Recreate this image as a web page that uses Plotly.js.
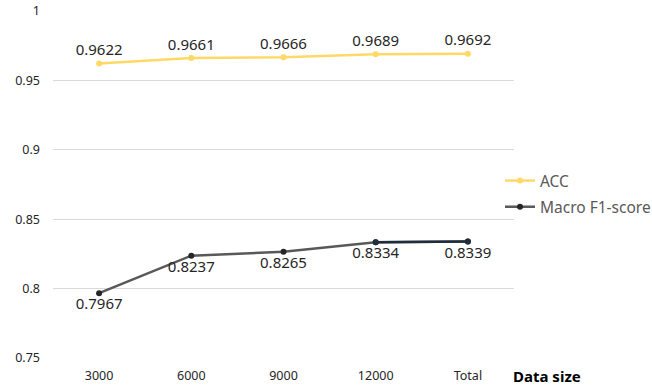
<!DOCTYPE html>
<html>
<head>
<meta charset="utf-8">
<script src="https://cdn.plot.ly/plotly-3.0.1.min.js"></script>
<style>
  html, body { margin: 0; padding: 0; background: #ffffff; }
  #chart { width: 652px; height: 385px; }
</style>
</head>
<body>
<div id="chart"></div>
<script>
// Data size buckets on the x axis
const dataSizes = ['3000', '6000', '9000', '12000', 'Total'];
// Accuracy per data size
const accValues = [0.9622, 0.9661, 0.9666, 0.9689, 0.9692];
// Macro F1-score per data size
const f1Values = [0.7967, 0.8237, 0.8265, 0.8334, 0.8339];
// Y axis ticks
const yTicks = [0.75, 0.8, 0.85, 0.9, 0.95, 1];
const yTickLabels = ['0.75', '0.8', '0.85', '0.9', '0.95', '1'];

const fmt = v => v.toFixed(4);
const labelFont = { family: 'Noto Sans, Open Sans, sans-serif', size: 15, color: '#262626' };

const accTrace = {
  x: dataSizes, y: accValues, name: 'ACC', legendgroup: 'acc',
  type: 'scatter', mode: 'lines+markers+text',
  line: { color: '#FFD966', width: 2.5 },
  marker: { color: '#FFD966', size: 6 },
  text: accValues.map(fmt), textposition: 'top center',
  textfont: labelFont, cliponaxis: false
};

const f1Trace = {
  x: dataSizes, y: f1Values, name: 'Macro F1-score', legendgroup: 'f1',
  type: 'scatter', mode: 'lines+markers+text',
  line: { color: '#595959', width: 2.5 },
  marker: { color: '#262626', size: 6 },
  text: f1Values.map(fmt), textposition: 'bottom center',
  textfont: labelFont, cliponaxis: false
};

// Final segment of the F1 line, drawn in a darker navy tone
const f1TailTrace = {
  x: dataSizes.slice(3), y: f1Values.slice(3), legendgroup: 'f1',
  type: 'scatter', mode: 'lines+markers', showlegend: false, hoverinfo: 'skip',
  line: { color: '#1F2D3D', width: 2.5 },
  marker: { color: '#1F2D3D', size: 6 }
};

const layout = {
  width: 652, height: 385,
  margin: { l: 53, r: 138, t: 11, b: 27, autoexpand: false },
  paper_bgcolor: '#ffffff', plot_bgcolor: '#ffffff',
  font: { family: 'Noto Sans, Open Sans, sans-serif', color: '#262626' },
  showlegend: true,
  legend: {
    xref: 'container', yref: 'container',
    x: 500 / 652, y: 1 - 194 / 385, xanchor: 'left', yanchor: 'middle',
    font: { size: 15.5, color: '#595959' },
    itemwidth: 30, traceorder: 'grouped', tracegroupgap: 3,
    bgcolor: 'rgba(0,0,0,0)'
  },
  xaxis: {
    type: 'category', range: [-0.5, 4.5],
    showgrid: false, zeroline: false, showline: false, ticks: '',
    tickfont: { size: 12.5, color: '#262626' }, ticklabelstandoff: 8
  },
  yaxis: {
    range: [0.75, 1], tickvals: yTicks, ticktext: yTickLabels,
    showgrid: true, gridcolor: '#D9D9D9', gridwidth: 1.3,
    zeroline: false, showline: false, ticks: '',
    tickfont: { size: 12.5, color: '#262626' }, ticklabelstandoff: 12
  },
  annotations: [{
    text: '<b>Data size</b>', xref: 'x', yref: 'y',
    x: 4.5, y: 0.75, xanchor: 'left', yanchor: 'middle', yshift: -18, xshift: -3,
    showarrow: false, font: { size: 15, color: '#000000' }
  }]
};

Plotly.newPlot('chart', [accTrace, f1Trace, f1TailTrace], layout, { displayModeBar: false, staticPlot: true });
</script>
</body>
</html>
